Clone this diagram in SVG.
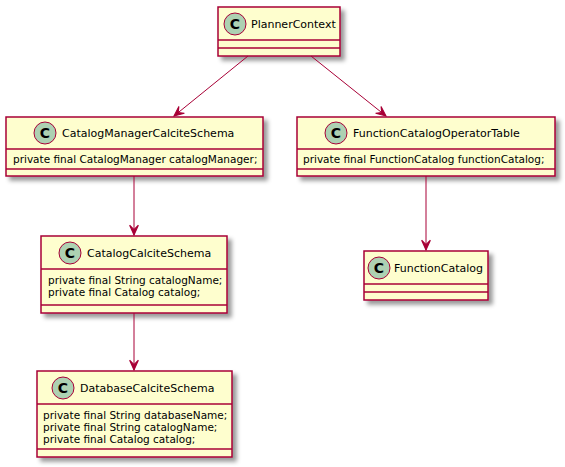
<svg xmlns="http://www.w3.org/2000/svg" width="565" height="467" viewBox="0 0 565 467">
<style>
.box{fill:#FEFECE;stroke:#A80036;stroke-width:1.5;filter:url(#sh)}
.div{stroke:#A80036;stroke-width:1.5}
.ci{fill:#ADD1B2;stroke:#A80036;stroke-width:1}
.cl{font-family:"DejaVu Sans","Liberation Sans",sans-serif;font-size:14px;font-weight:bold;fill:#000;text-anchor:middle}
.t{font-family:"DejaVu Sans","Liberation Sans",sans-serif;font-size:11px;fill:#000}
.a{font-family:"DejaVu Sans","Liberation Sans",sans-serif;font-size:10.5px;fill:#000}
.e{stroke:#A80036;stroke-width:1;fill:none;marker-end:url(#ar)}
</style>
<defs>
<filter id="sh" x="-10%" y="-10%" width="130%" height="140%">
<feGaussianBlur in="SourceAlpha" stdDeviation="2"/>
<feOffset dx="4" dy="4" result="b"/>
<feColorMatrix in="b" type="matrix" values="0 0 0 0 0  0 0 0 0 0  0 0 0 0 0  0 0 0 0.4 0" result="c"/>
<feMerge><feMergeNode in="c"/><feMergeNode in="SourceGraphic"/></feMerge>
</filter>
<marker id="ar" markerUnits="userSpaceOnUse" markerWidth="12" markerHeight="12" viewBox="-10 -5 11 10" refX="0" refY="0" orient="auto">
<path d="M0,0 L-9,-4 L-5,0 L-9,4 Z" fill="#A80036" stroke="#A80036" stroke-width="1"/>
</marker>
</defs>
<g id="PlannerContext">
<rect class="box" x="218" y="7" width="122" height="49"/>
<line class="div" x1="218" y1="40" x2="340" y2="40"/>
<line class="div" x1="218" y1="48" x2="340" y2="48"/>
<circle class="ci" cx="235" cy="24" r="11"/>
<text class="cl" x="235" y="29">C</text>
<text class="t" x="251" y="28">PlannerContext</text>
</g>
<g id="CatalogManagerCalciteSchema">
<rect class="box" x="6" y="117" width="257" height="59"/>
<line class="div" x1="6" y1="149" x2="263" y2="149"/>
<line class="div" x1="6" y1="169" x2="263" y2="169"/>
<circle class="ci" cx="45" cy="133" r="11"/>
<text class="cl" x="45" y="138">C</text>
<text class="t" x="62" y="137">CatalogManagerCalciteSchema</text>
<text class="a" x="13" y="163">private final CatalogManager catalogManager;</text>
</g>
<g id="FunctionCatalogOperatorTable">
<rect class="box" x="297" y="117" width="258" height="59"/>
<line class="div" x1="297" y1="149" x2="555" y2="149"/>
<line class="div" x1="297" y1="169" x2="555" y2="169"/>
<circle class="ci" cx="336" cy="133" r="11"/>
<text class="cl" x="336" y="138">C</text>
<text class="t" x="353" y="137">FunctionCatalogOperatorTable</text>
<text class="a" x="303" y="163">private final FunctionCatalog functionCatalog;</text>
</g>
<g id="CatalogCalciteSchema">
<rect class="box" x="41" y="236" width="186" height="77"/>
<line class="div" x1="41" y1="269" x2="227" y2="269"/>
<line class="div" x1="41" y1="305" x2="227" y2="305"/>
<circle class="ci" cx="70" cy="253" r="11"/>
<text class="cl" x="70" y="258">C</text>
<text class="t" x="87" y="257">CatalogCalciteSchema</text>
<text class="a" x="48" y="284">private final String catalogName;</text>
<text class="a" x="48" y="296">private final Catalog catalog;</text>
</g>
<g id="DatabaseCalciteSchema">
<rect class="box" x="37" y="371" width="195" height="86"/>
<line class="div" x1="37" y1="404" x2="232" y2="404"/>
<line class="div" x1="37" y1="449" x2="232" y2="449"/>
<circle class="ci" cx="63" cy="388" r="11"/>
<text class="cl" x="63" y="393">C</text>
<text class="t" x="80" y="392">DatabaseCalciteSchema</text>
<text class="a" x="43" y="419">private final String databaseName;</text>
<text class="a" x="43" y="431">private final String catalogName;</text>
<text class="a" x="43" y="443">private final Catalog catalog;</text>
</g>
<g id="FunctionCatalog">
<rect class="box" x="364" y="251" width="124" height="49"/>
<line class="div" x1="364" y1="284" x2="488" y2="284"/>
<line class="div" x1="364" y1="292" x2="488" y2="292"/>
<circle class="ci" cx="379" cy="268" r="11"/>
<text class="cl" x="379" y="273">C</text>
<text class="t" x="394" y="272">FunctionCatalog</text>
</g>
<g id="connectors">
<path class="e" d="M248,56 L174,116"/>
<path class="e" d="M311,56 L386,116"/>
<path class="e" d="M134,176 L134,235"/>
<path class="e" d="M426,176 L426,250"/>
<path class="e" d="M134,313 L134,370"/>
</g>
</svg>
